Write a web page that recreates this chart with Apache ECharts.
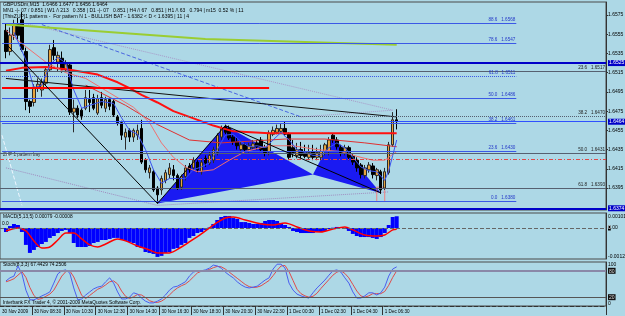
<!DOCTYPE html>
<html><head><meta charset="utf-8">
<script src="https://cdn.jsdelivr.net/npm/echarts@6/dist/echarts.min.js"></script>
<style>html,body{margin:0;padding:0;background:#add8e6;}#c{width:625px;height:316px;}</style>
</head><body><div id="c"></div>
<script>
// ---------- DATA ----------
const SLOTS = 152;
const opens = [1.6559,1.6537,1.6554,1.6565,1.6570,1.6537,1.6485,1.6484,1.6500,1.6497,
1.6504,1.6518,1.6541,1.6526,1.6530,1.6518,1.6523,1.6474,1.6478,1.6476,
1.6478,1.6487,1.6489,1.6473,1.6489,1.6478,1.6487,1.6485,1.6469,1.6463,
1.6448,1.6455,1.6448,1.6450,1.6457,1.6424,1.6411,1.6412,1.6395,1.6393,
1.6403,1.6409,1.6414,1.6408,1.6396,1.6407,1.6418,1.6416,1.6422,1.6412,
1.6426,1.6421,1.6424,1.6432,1.6448,1.6459,1.6457,1.6448,1.6443,1.6435,
1.6440,1.6435,1.6437,1.6442,1.6445,1.6437,1.6433,1.6451,1.6453,1.6454,
1.6457,1.6451,1.6437,1.6429,1.6435,1.6433,1.6427,1.6433,1.6427,1.6427,
1.6433,1.6433,1.6450,1.6445,1.6437,1.6432,1.6437,1.6428,1.6424,1.6419,
1.6408,1.6414,1.6418,1.6408,1.6412,1.6395,1.6411,1.6440,1.6466];
const closes = [1.6537,1.6554,1.6565,1.6554,1.6539,1.6485,1.6480,1.6500,1.6503,1.6505,
1.6518,1.6539,1.6533,1.6533,1.6518,1.6524,1.6474,1.6478,1.6471,1.6469,
1.6489,1.6484,1.6478,1.6488,1.6481,1.6487,1.6480,1.6471,1.6463,1.6450,
1.6453,1.6448,1.6455,1.6455,1.6422,1.6414,1.6416,1.6393,1.6388,1.6405,
1.6411,1.6416,1.6408,1.6395,1.6407,1.6416,1.6414,1.6424,1.6414,1.6422,
1.6421,1.6429,1.6435,1.6450,1.6457,1.6453,1.6447,1.6443,1.6439,1.6440,
1.6435,1.6439,1.6441,1.6438,1.6435,1.6432,1.6452,1.6455,1.6457,1.6457,
1.6451,1.6427,1.6432,1.6435,1.6429,1.6428,1.6432,1.6427,1.6432,1.6433,
1.6440,1.6445,1.6445,1.6438,1.6432,1.6437,1.6427,1.6422,1.6416,1.6409,
1.6416,1.6419,1.6409,1.6414,1.6393,1.6412,1.6440,1.6466,1.6464];
const lows = [1.6530,1.6533,1.6549,1.6549,1.6537,1.6476,1.6473,1.6480,1.6495,1.6490,
1.6502,1.6516,1.6528,1.6516,1.6515,1.6516,1.6471,1.6453,1.6468,1.6466,
1.6476,1.6474,1.6476,1.6471,1.6478,1.6474,1.6476,1.6469,1.6460,1.6445,
1.6435,1.6443,1.6443,1.6445,1.6420,1.6411,1.6405,1.6391,1.6379,1.6388,
1.6400,1.6405,1.6403,1.6393,1.6393,1.6403,1.6411,1.6414,1.6411,1.6409,
1.6417,1.6419,1.6421,1.6429,1.6445,1.6451,1.6445,1.6440,1.6435,1.6432,
1.6432,1.6432,1.6435,1.6435,1.6433,1.6428,1.6429,1.6449,1.6451,1.6452,
1.6449,1.6424,1.6427,1.6426,1.6426,1.6426,1.6424,1.6424,1.6424,1.6424,
1.6429,1.6429,1.6442,1.6435,1.6428,1.6429,1.6424,1.6419,1.6412,1.6405,
1.6405,1.6411,1.6405,1.6403,1.6389,1.6393,1.6409,1.6438,1.6456];
const highs = [1.6566,1.6562,1.6570,1.6572,1.6578,1.6541,1.6487,1.6503,1.6509,1.6509,
1.6521,1.6544,1.6549,1.6537,1.6537,1.6528,1.6526,1.6487,1.6481,1.6478,
1.6497,1.6497,1.6493,1.6492,1.6495,1.6490,1.6489,1.6487,1.6471,1.6465,
1.6457,1.6457,1.6457,1.6461,1.6466,1.6426,1.6419,1.6414,1.6397,1.6408,
1.6414,1.6421,1.6419,1.6410,1.6409,1.6419,1.6421,1.6427,1.6424,1.6426,
1.6429,1.6433,1.6438,1.6452,1.6460,1.6461,1.6460,1.6450,1.6447,1.6443,
1.6442,1.6442,1.6445,1.6445,1.6448,1.6440,1.6455,1.6459,1.6461,1.6462,
1.6464,1.6453,1.6445,1.6442,1.6443,1.6440,1.6440,1.6440,1.6437,1.6440,
1.6442,1.6448,1.6452,1.6448,1.6440,1.6440,1.6439,1.6431,1.6427,1.6421,
1.6419,1.6422,1.6421,1.6416,1.6414,1.6416,1.6443,1.6474,1.6477];

// moving averages, sampled [barIndex, price]
const slowMA = [[0,1.6517],[4,1.6520],[10,1.6521],[16,1.6518],[23,1.6513],[28,1.6505],[31,1.6499],[34,1.6492],[38,1.6484],[42,1.6475],[46,1.6469],[52,1.6460],[57,1.6454],[66,1.6452],[80,1.6452],[98,1.6452]];
const midMA = [[20,1.6502],[30,1.6481],[38,1.6461],[46,1.6445],[54,1.6442],[62,1.6444],[70,1.6446],[80,1.6446],[90,1.6442],[98,1.6438]];
const thinMA = [[0,1.6559],[5,1.6542],[10,1.6526],[15,1.6515],[20,1.6509],[26,1.6494],[32,1.6479],[36,1.6463],[39,1.6442],[42,1.6427],[45,1.6417],[48,1.6412],[52,1.6414],[56,1.6424],[60,1.6433],[66,1.6439],[72,1.6439],[78,1.6435],[84,1.6433],[88,1.6428],[92,1.6424],[95,1.6424],[98,1.6433]];
const fastMA = [[2,1.6557],[5,1.6528],[7,1.6499],[9,1.6502],[11,1.6523],[13,1.6531],[15,1.6525],[17,1.6497],[19,1.6478],[21,1.6481],[24,1.6485],[27,1.6483],[29,1.6468],[31,1.6455],[33,1.6451],[35,1.6435],[37,1.6414],[39,1.6400],[41,1.6405],[43,1.6405],[45,1.6405],[47,1.6414],[49,1.6417],[51,1.6421],[53,1.6435],[55,1.6450],[57,1.6451],[59,1.6443],[61,1.6438],[63,1.6439],[65,1.6437],[67,1.6445],[69,1.6453],[71,1.6445],[73,1.6435],[75,1.6432],[77,1.6429],[79,1.6429],[81,1.6437],[83,1.6442],[85,1.6437],[87,1.6427],[89,1.6417],[91,1.6413],[93,1.6412],[95,1.6403],[96,1.6413],[97,1.6429],[98,1.6445]];
const greenMA = [[0,1.6565],[30,1.6556],[50,1.6550],[75,1.6547],[98,1.6544]];

// drawn objects [barIndex, price]
const blackTrend = [[0,1.6509],[98,1.6469]];
const redLevel = [[-1,1.6499],[66,1.6499]];
const prevLeg = [[0,1.6545],[38,1.6379]];
const legXA = [[38,1.6379],[55,1.6460]];
const legAD = [[55,1.6460],[94,1.6390]];
const patternTriangles = [
  [[38,1.6379],[55,1.6460],[77,1.6409]],
  [[77,1.6409],[82,1.6449],[94,1.6390]]
];
const dRect = [[93,1.6396],[95,1.6381]];
const dottedUpper = [[5,1.6566],[97,1.6476]];
const dashedBlue = [[9,1.6565],[74,1.6469]];
const dottedChevron = [[74,1.6469],[97,1.6476]];
const dottedLowA = [[0,1.6416],[38,1.6377]];
const dottedLowB = [[38,1.6377],[96,1.6391]];
const dashedLight = [[-1,1.6450],[4,1.6377]];

// fibonacci levels
const leftFibs = [['88.6','1.6568',1.6566],['78.6','1.6547',1.6546],['61.8','1.6511',1.6511],['50.0','1.6486',1.6488],['38.2','1.6461',1.6462],['23.6','1.6430',1.6433],['0.0','1.6380',1.6381]];
const rightFibs = [['23.6','1.6517',1.6517],['38.2','1.6470',1.6470],['50.0','1.6431',1.6431],['61.8','1.6393',1.6395]];
const boxLevels = [['1.6525',1.6525],['1.6464',1.6464],['1.6374',1.6374]];
const patternLevel = 1.6425;

// MACD
const macdHist = [-0.00027,0.00013,0.00027,0.00020,-0.00027,-0.00114,-0.00168,-0.00148,-0.00128,-0.00108,
-0.00094,-0.00067,-0.00054,-0.00034,-0.00020,-0.00013,-0.00034,-0.00101,-0.00128,-0.00128,
-0.00128,-0.00121,-0.00101,-0.00094,-0.00081,-0.00081,-0.00074,-0.00067,-0.00067,-0.00081,
-0.00087,-0.00094,-0.00101,-0.00128,-0.00135,-0.00162,-0.00168,-0.00175,-0.00195,-0.00188,
-0.00168,-0.00162,-0.00141,-0.00135,-0.00114,-0.00101,-0.00067,-0.00054,-0.00034,-0.00027,
-0.00013,0.00003,0.00027,0.00054,0.00074,0.00081,0.00081,0.00067,0.00061,0.00040,
0.00040,0.00034,0.00027,0.00027,0.00034,0.00047,0.00054,0.00054,0.00047,0.00034,
0.00020,0.00007,-0.00020,-0.00027,-0.00034,-0.00034,-0.00034,-0.00034,-0.00027,-0.00027,
-0.00020,-0.00007,0.00002,0.00007,0.00002,-0.00007,-0.00020,-0.00040,-0.00054,-0.00061,
-0.00061,-0.00061,-0.00067,-0.00074,-0.00061,-0.00034,0.00020,0.00074,0.00079];
const macdSignal = [[0,-0.00020],[3,0],[5,-0.00020],[7,-0.00087],[9,-0.00135],[11,-0.00128],[13,-0.00081],[15,-0.00034],[17,-0.00034],[19,-0.00074],[21,-0.00114],[23,-0.00128],[25,-0.00108],[28,-0.00074],[30,-0.00087],[33,-0.00121],[36,-0.00148],[38,-0.00168],[41,-0.00168],[44,-0.00128],[46,-0.00094],[49,-0.00040],[52,0.00020],[55,0.00067],[57,0.00074],[60,0.00054],[64,0.00027],[67,0.00020],[70,0.00034],[73,0.00007],[76,-0.00020],[79,-0.00027],[82,-0.00007],[85,0.00007],[87,-0.00013],[90,-0.00047],[93,-0.00054],[95,-0.00047],[97,-0.00013],[98,-0.00008]];
const macdTickValues = [0.00076, 0, -0.00194];
const macdTickText = ['0.00101', '0.00', '-0.00127'];

// Stochastic
const stochK = [57,64,68,91,73,36,14,14,18,23,27,32,52,73,80,82,75,41,14,16,
25,32,39,43,45,55,64,52,32,16,16,20,30,27,18,11,7,7,11,16,
25,36,43,45,50,55,68,77,80,80,82,86,93,91,86,77,70,64,55,48,
43,41,43,45,52,59,64,84,95,95,86,52,36,27,23,20,18,30,41,50,
59,70,80,82,77,64,52,32,18,18,23,30,30,25,30,43,68,84,89];
const stochD = [55,58,62,70,78,65,42,24,15,17,22,27,36,52,68,78,80,66,45,24,
17,24,31,38,42,48,55,57,50,34,22,17,21,26,25,19,12,9,8,11,
17,25,34,41,46,50,57,66,75,79,80,83,87,90,89,84,77,70,63,56,
49,44,42,43,46,52,58,69,81,91,92,78,58,38,28,23,20,22,29,40,
50,60,70,77,80,74,64,49,34,23,20,23,28,28,28,33,47,65,80];
const stochTickValues = [95, 80, 20, 5];
const stochTickText = ['100', '80', '20', '0'];

// price axis ticks and time labels
const priceTicks = [1.6395,1.6415,1.6435,1.6455,1.6475,1.6495,1.6515,1.6535,1.6555,1.6575];
const timeLabels = [[-1,'30 Nov 2009'],[7,'30 Nov 08:30'],[15,'30 Nov 10:30'],[23,'30 Nov 12:30'],[31,'30 Nov 14:30'],[39,'30 Nov 16:30'],[47,'30 Nov 18:30'],[55,'30 Nov 20:30'],[63,'30 Nov 22:30'],[71,'1 Dec 00:30'],[79,'1 Dec 02:30'],[87,'1 Dec 04:30'],[95,'1 Dec 06:30']];

const headerLines = [
  'GBPUSDm,M15  1.6466 1.6477 1.6456 1.6464',
  'MN1 -|- 07 / 0.851 | W1 /\\ 213   0.358 | D1 -|- 07   0.851 | H4 /\\ 67   0.851 | H1 /\\ 63   0.794 | m15  0.52 % | 11',
  '[ThisZUP]1 patterns -  For pattern N 1 - BULLISH BAT - 1.6382 < D < 1.6395 | 11 | 4'
];

// ---------- BUILD ----------
const FONT = 'Liberation Sans, Arial, sans-serif';
const slot = b => b + 1;
const cats = Array.from({length: SLOTS}, (_, i) => 's' + i);
const labelMap = new Map(timeLabels.map(t => [slot(t[0]), t[1]]));
const pts = arr => arr.map(p => [slot(p[0]), p[1]]);
const pad = arr => ['-'].concat(arr);

function lineSeries(data, color, width, type, z, axis) {
  return {type:'line', xAxisIndex: axis || 0, yAxisIndex: axis || 0, data: pts(data), symbol:'none', silent:true,
    z: z || 4, lineStyle:{color, width, type: type || 'solid'}, smooth: false, animation:false};
}

const candleData = [['-','-','-','-']].concat(opens.map((o, k) => [o, closes[k], lows[k], highs[k]]));

const fibLineData = [];
leftFibs.forEach((f, i) => {
  fibLineData.push([
    {coord:[0, f[2]], lineStyle:{color:'#3b58e6', width:1, type: f[0]==='61.8' ? 'dotted' : 'solid'},
     label:{show:true, position:'insideEndTop', formatter: f[0] + '   ' + f[1], color:'#2438c8', fontSize:4.6, fontFamily:FONT, distance:1}},
    {coord:[129, f[2]]}
  ]);
});
rightFibs.forEach(f => {
  fibLineData.push({yAxis: f[2], lineStyle:{color:'#566070', width:1, type: f[0]==='38.2' ? 'dotted' : 'solid'},
    label:{show:true, position:'insideEndTop', formatter: f[0] + '   ' + f[1], color:'#222', fontSize:4.6, fontFamily:FONT, distance:1}});
});
fibLineData.push({yAxis: patternLevel, lineStyle:{color:'#e04848', width:1, type:[4,2,1,2]}, label:{show:false}});
boxLevels.forEach((b, i) => {
  fibLineData.push({yAxis: b[1], lineStyle:{color: i===1 ? '#2f50ff' : '#0000c8', width: i===1 ? 1 : 2, type:'solid'},
    label:{show:true, position:'end', formatter: b[0], color:'#fff', backgroundColor:'#0000c8', fontSize:5, fontFamily:FONT, padding:[1,1,0,1], distance:2}});
});

const option = {
  animation:false,
  backgroundColor:'#add8e6',
  grid:[
    {left:0, right:19, top:2, height:208, show:true, borderColor:'#4a4a4a', borderWidth:1, outerBoundsMode:'none', containLabel:false},
    {left:0, right:19, top:213, height:46, show:true, borderColor:'#4a4a4a', borderWidth:1, outerBoundsMode:'none', containLabel:false},
    {left:0, right:19, top:262, height:44, show:true, borderColor:'#4a4a4a', borderWidth:1, outerBoundsMode:'none', containLabel:false}
  ],
  xAxis:[
    {type:'category', gridIndex:0, data:cats, boundaryGap:true, show:false},
    {type:'category', gridIndex:1, data:cats, boundaryGap:true, show:false},
    {type:'category', gridIndex:2, data:cats, boundaryGap:true,
      axisLine:{show:true, lineStyle:{color:'#333', type:'dashed', width:1}},
      axisTick:{show:true, interval:(i)=> labelMap.has(i) && i>0, length:9, lineStyle:{color:'#333'}},
      axisLabel:{show:true, interval:(i)=> labelMap.has(i), formatter:(v, i)=> labelMap.get(i) || '',
        align:'left', fontSize:4.6, fontFamily:FONT, color:'#000', margin:3},
      splitLine:{show:false}}
  ],
  yAxis:[
    {type:'value', gridIndex:0, position:'right', min:1.63722, max:1.65885, scale:true, splitLine:{show:false},
      axisLine:{show:true, lineStyle:{color:'#333'}},
      axisTick:{show:true, customValues:priceTicks, length:2, lineStyle:{color:'#333'}},
      axisLabel:{show:true, customValues:priceTicks, formatter:v=>v.toFixed(4), fontSize:5, fontFamily:FONT, color:'#000', margin:2}},
    {type:'value', gridIndex:1, position:'right', min:-0.00209, max:0.00101, splitLine:{show:false},
      axisLine:{show:true, lineStyle:{color:'#333'}},
      axisTick:{show:false},
      axisLabel:{show:true, customValues:macdTickValues,
        formatter:(v)=>{ const i = macdTickValues.indexOf(v); const t = macdTickText[i]; return i===1 ? '{b|0}.00' : t; },
        rich:{b:{backgroundColor:'#000', color:'#fff', fontSize:5, fontFamily:FONT}},
        fontSize:5, fontFamily:FONT, color:'#000', margin:2}},
    {type:'value', gridIndex:2, position:'right', min:0, max:100, splitLine:{show:false},
      axisLine:{show:true, lineStyle:{color:'#333'}},
      axisTick:{show:false},
      axisLabel:{show:true, customValues:stochTickValues,
        formatter:(v)=>{ const t = stochTickText[stochTickValues.indexOf(v)]; return (t==='80'||t==='20') ? '{b|'+t+'}' : t; },
        rich:{b:{backgroundColor:'#111', color:'#ddd', fontSize:5, fontFamily:FONT, padding:[1,1,0,1]}},
        fontSize:5, fontFamily:FONT, color:'#000', margin:2}}
  ],
  graphic: [
    {type:'text', left:3, top:2.5, silent:true, style:{text:headerLines[0], fontSize:5, fontFamily:FONT, fill:'#000'}},
    {type:'text', left:3, top:8.5, silent:true, style:{text:headerLines[1], fontSize:5, fontFamily:FONT, fill:'#000'}},
    {type:'text', left:3, top:14, silent:true, style:{text:headerLines[2], fontSize:5, fontFamily:FONT, fill:'#000'}},
    {type:'text', left:3, top:152.5, silent:true, style:{text:'ZUP 1 pattern bay', fontSize:4.6, fontFamily:FONT, fill:'#333'}},
    {type:'text', left:3, top:214, silent:true, style:{text:'MACD(5,13,5) 0.00079 -0.00008', fontSize:4.8, fontFamily:FONT, fill:'#000'}},
    {type:'text', left:2, top:221.5, silent:true, style:{text:'0.0', fontSize:4.8, fontFamily:FONT, fill:'#000'}},
    {type:'text', left:3, top:262.5, silent:true, style:{text:'Stoch(8,3,3) 67.4429 74.2506', fontSize:4.8, fontFamily:FONT, fill:'#000'}},
    {type:'text', left:3, top:300.5, silent:true, style:{text:'Interbank FX Trader 4, \u00a9 2001-2009 MetaQuotes Software Corp.', fontSize:4.8, fontFamily:FONT, fill:'#000'}}
  ],
  series:[
    // pattern triangles
    {type:'custom', xAxisIndex:0, yAxisIndex:0, z:1, silent:true,
      data: patternTriangles.map(t => [slot(t[0][0]), t[0][1]]), encode:{x:0, y:1},
      renderItem:(params, api)=>{
        const t = patternTriangles[params.dataIndex];
        return {type:'polygon', shape:{points: t.map(p => api.coord([slot(p[0]), p[1]]))}, style:{fill:'#1a1af2'}};
      }},
    // D zone rectangle
    {type:'custom', xAxisIndex:0, yAxisIndex:0, z:3, silent:true,
      data:[[slot(dRect[0][0]), dRect[0][1]]], encode:{x:0, y:1},
      renderItem:(params, api)=>{
        const a = api.coord([slot(dRect[0][0]), dRect[0][1]]);
        const b = api.coord([slot(dRect[1][0]), dRect[1][1]]);
        return {type:'rect', shape:{x:a[0], y:a[1], width:b[0]-a[0], height:b[1]-a[1]}, style:{fill:'none', stroke:'#f08080', lineWidth:1}};
      }},
    // horizontal levels host
    {type:'line', xAxisIndex:0, yAxisIndex:0, data:[[0,1.65]], symbol:'none', lineStyle:{width:0}, z:2, silent:true,
      markLine:{silent:true, precision:6, symbol:['none','none'], animation:false, data: fibLineData}},
    // dotted diagonals
    lineSeries(dottedUpper, '#a898c8', 1, 'dotted', 2),
    lineSeries(dashedBlue, '#4a66e0', 1, 'dashed', 2),
    lineSeries(dottedChevron, '#a898c8', 1, 'dotted', 2),
    lineSeries(dottedLowA, '#a08cc0', 1, 'dotted', 2),
    lineSeries(dottedLowB, '#a08cc0', 1, 'dotted', 2),
    lineSeries(dashedLight, '#eef6ff', 1, 'dashed', 2),
    // candles
    {type:'candlestick', xAxisIndex:0, yAxisIndex:0, z:3, data:candleData, barWidth:3, silent:true,
      itemStyle:{color:'#e8a33d', color0:'#000000', borderColor:'#2a2a2a', borderColor0:'#000000', borderWidth:1}},
    // indicator lines
    lineSeries(greenMA, '#9acd32', 2, 'solid', 4),
    lineSeries(slowMA, '#ff1010', 2, 'solid', 4),
    lineSeries(midMA, '#e03030', 1, 'solid', 4),
    lineSeries(thinMA, '#f07070', 1, 'solid', 4),
    lineSeries(fastMA, '#3a52f0', 1, 'solid', 4),
    lineSeries(blackTrend, '#111', 1, 'solid', 4),
    lineSeries(redLevel, '#ff0000', 2, 'solid', 4),
    lineSeries(prevLeg, '#000', 1, 'solid', 5),
    lineSeries(legXA, '#000', 1, 'solid', 5),
    lineSeries(legAD, '#000', 1, 'solid', 5),
    // MACD
    {type:'bar', xAxisIndex:1, yAxisIndex:1, data:pad(macdHist), barCategoryGap:'0%', barGap:'0%', silent:true,
      itemStyle:{color:'#0000ff'},
      markLine:{silent:true, precision:6, symbol:['none','none'], label:{show:false}, data:[{yAxis:0, lineStyle:{color:'#666', type:'dashed', width:1}}]}},
    {type:'line', xAxisIndex:1, yAxisIndex:1, data:pts(macdSignal), symbol:'none', smooth:0.3, silent:true, z:4,
      lineStyle:{color:'#ff0000', width:1.5}},
    // Stochastic
    {type:'line', xAxisIndex:2, yAxisIndex:2, data:pad(stochD), symbol:'none', silent:true, z:3,
      lineStyle:{color:'#e04a4a', width:1},
      markLine:{silent:true, precision:6, symbol:['none','none'], label:{show:false}, data:[
        {yAxis:80, lineStyle:{color:'#8a88a8', width:2, type:'solid'}},
        {yAxis:20, lineStyle:{color:'#555', width:1, type:'solid'}}]}},
    {type:'line', xAxisIndex:2, yAxisIndex:2, data:pad(stochK), symbol:'none', silent:true, z:4,
      lineStyle:{color:'#4a5ef0', width:1}}
  ]
};

const chart = echarts.init(document.getElementById('c'), null, {renderer:'canvas', width:625, height:316});
chart.setOption(option);
</script>
</body></html>
